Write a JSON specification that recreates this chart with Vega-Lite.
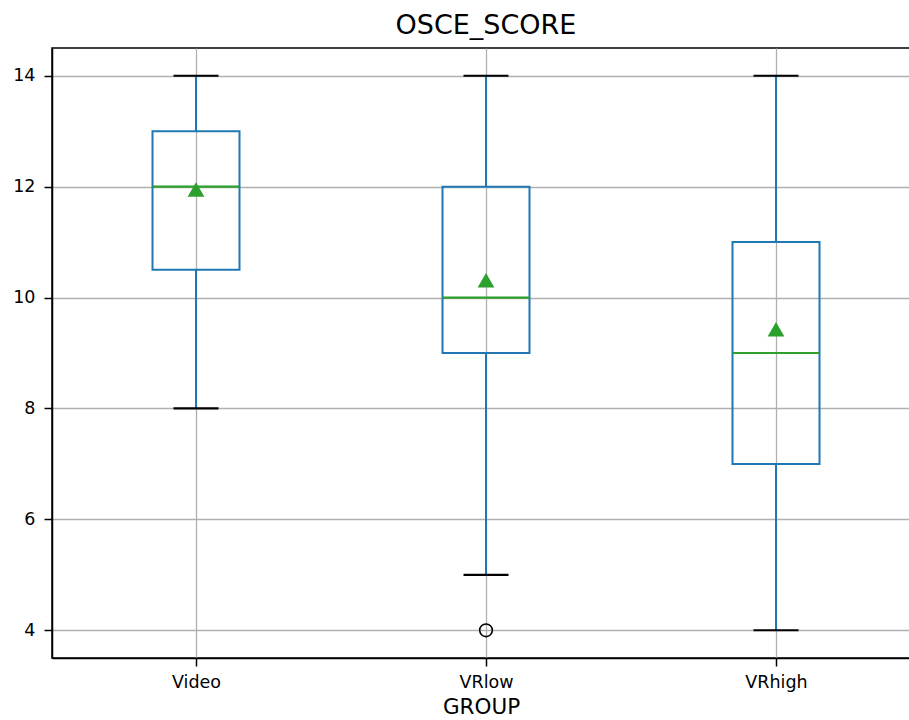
{
  "$schema": "https://vega.github.io/schema/vega-lite/v6.json",
  "autosize": {"type": "none"},
  "padding": {"left": 52, "top": 48, "right": 0, "bottom": 62},
  "width": 858,
  "height": 610,
  "background": "white",
  "title": {"text": "OSCE_SCORE", "font": "DejaVu Sans", "fontSize": 27, "fontWeight": "normal", "color": "black", "anchor": "middle", "baseline": "alphabetic", "offset": -13, "dx": 5},
  "config": {
    "view": {"stroke": "black", "strokeWidth": 1.5},
    "axis": {"labelFont": "DejaVu Sans", "labelFontSize": 17.5, "labelColor": "black", "titleFont": "DejaVu Sans", "titleFontSize": 21.5, "titleFontWeight": "normal", "titleColor": "black", "tickColor": "black", "tickSize": 8, "tickWidth": 1.5, "domainColor": "black", "domainWidth": 1.5, "grid": true, "gridColor": "#b0b0b0", "gridWidth": 1.3}
  },
  "datasets": {
    "boxes": [
      {"GROUP": "Video", "lower": 8, "q1": 10.5, "median": 12, "q3": 13, "upper": 14, "mean": 11.95},
      {"GROUP": "VRlow", "lower": 5, "q1": 9, "median": 10, "q3": 12, "upper": 14, "mean": 10.31},
      {"GROUP": "VRhigh", "lower": 4, "q1": 7, "median": 9, "q3": 11, "upper": 14, "mean": 9.43}
    ],
    "outliers": [
      {"GROUP": "VRlow", "OSCE_SCORE": 4}
    ]
  },
  "encoding": {
    "x": {"field": "GROUP", "type": "nominal", "sort": ["Video", "VRlow", "VRhigh"],
          "scale": {"type": "point", "padding": 0.4793, "align": 0.518},
          "axis": {"title": "GROUP", "labelAngle": 0, "labelPadding": 7, "titlePadding": 6}}
  },
  "layer": [
    {
      "data": {"name": "boxes"},
      "mark": {"type": "rule", "color": "#1f77b4", "strokeWidth": 2},
      "encoding": {
        "y": {"field": "lower", "type": "quantitative", "scale": {"domain": [3.5, 14.5], "nice": false, "zero": false},
              "axis": {"title": null, "values": [4, 6, 8, 10, 12, 14], "format": "d", "labelPadding": 9}},
        "y2": {"field": "q1"}
      }
    },
    {
      "data": {"name": "boxes"},
      "mark": {"type": "rule", "color": "#1f77b4", "strokeWidth": 2},
      "encoding": {
        "y": {"field": "q3", "type": "quantitative"},
        "y2": {"field": "upper"}
      }
    },
    {
      "data": {"name": "boxes"},
      "mark": {"type": "bar", "width": 87, "fill": null, "fillOpacity": 0, "stroke": "#1f77b4", "strokeWidth": 2},
      "encoding": {
        "y": {"field": "q1", "type": "quantitative"},
        "y2": {"field": "q3"}
      }
    },
    {
      "data": {"name": "boxes"},
      "mark": {"type": "tick", "color": "#2ca02c", "size": 87, "thickness": 2.2, "opacity": 1},
      "encoding": {
        "y": {"field": "median", "type": "quantitative"}
      }
    },
    {
      "data": {"name": "boxes"},
      "mark": {"type": "tick", "color": "black", "size": 45, "thickness": 2.2, "opacity": 1},
      "encoding": {
        "y": {"field": "lower", "type": "quantitative"}
      }
    },
    {
      "data": {"name": "boxes"},
      "mark": {"type": "tick", "color": "black", "size": 45, "thickness": 2.2, "opacity": 1},
      "encoding": {
        "y": {"field": "upper", "type": "quantitative"}
      }
    },
    {
      "data": {"name": "boxes"},
      "mark": {"type": "point", "shape": "triangle-up", "filled": true, "color": "#2ca02c", "opacity": 1, "size": 280},
      "encoding": {
        "y": {"field": "mean", "type": "quantitative"}
      }
    },
    {
      "data": {"name": "outliers"},
      "mark": {"type": "point", "shape": "circle", "filled": false, "color": "black", "opacity": 1, "size": 160, "strokeWidth": 1.6},
      "encoding": {
        "y": {"field": "OSCE_SCORE", "type": "quantitative"}
      }
    }
  ]
}
